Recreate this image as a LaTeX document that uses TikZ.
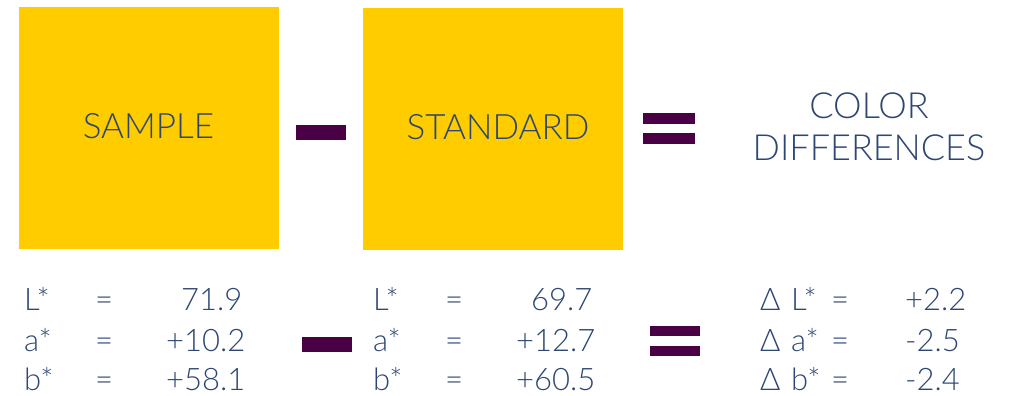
\documentclass[tikz,border=0pt]{standalone}
\usepackage{fontspec}
\setmainfont{Lato Light}
\definecolor{gold}{HTML}{FFCC00}
\definecolor{ink}{HTML}{2D4673}
\definecolor{plum}{HTML}{4A0045}
\begin{document}
\begin{tikzpicture}[x=1pt,y=-1pt,
  square/.style={fill=gold, inner sep=0pt, minimum width=260pt, minimum height=242pt},
  sqtext/.style={inner sep=0pt, text=ink, font=\fontsize{35}{35}\selectfont},
  bar/.style={fill=plum, inner sep=0pt, minimum width=50pt},
  val/.style={inner sep=0pt, anchor=base west, text=ink, font=\fontsize{31}{31}\selectfont},
  head/.style={inner sep=0pt, anchor=base, text=ink, font=\fontsize{36}{36}\selectfont}]
\useasboundingbox (0,0) rectangle (1012,396);
% squares
\node[square] (sample) at (149,128) {};
\node[sqtext] (samplelbl) at (148.5,126.5) {SAMPLE};
\node[square] (standard) at (493,129) {};
\node[sqtext] (standardlbl) at (498,127.5) {STANDARD};
% top operators
\node[bar, minimum height=15pt] (minustop) at (321,132.5) {};
\node[bar, minimum height=11pt, minimum width=52pt] (eqtopa) at (669,118.5) {};
\node[bar, minimum height=11pt, minimum width=52pt] (eqtopb) at (669,138.5) {};
% heading
\node[head] (color) at (869,118) {COLOR};
\node[head] (diff) at (869,160) {DIFFERENCES};
% sample values
\node[val] (sL) at (24,310) {L*};
\node[val] (sa) at (24,351) {a*};
\node[val] (sb) at (24,390) {b*};
\node[val] (seq1) at (95,310) {=};
\node[val] (seq2) at (95,351) {=};
\node[val] (seq3) at (95,390) {=};
\node[val] (sv1) at (181,310) {71.9};
\node[val] (sv2) at (166,351) {+10.2};
\node[val] (sv3) at (166,390) {+58.1};
% bottom minus
\node[bar, minimum height=15pt] (minusbot) at (327,344.5) {};
% standard values
\node[val] (tL) at (373,310) {L*};
\node[val] (ta) at (373,351) {a*};
\node[val] (tb) at (373,390) {b*};
\node[val] (teq1) at (445,310) {=};
\node[val] (teq2) at (445,351) {=};
\node[val] (teq3) at (445,390) {=};
\node[val] (tv1) at (531,310) {69.7};
\node[val] (tv2) at (516,351) {+12.7};
\node[val] (tv3) at (516,390) {+60.5};
% bottom equals
\node[bar, minimum height=10pt] (eqbota) at (675,331) {};
\node[bar, minimum height=10pt] (eqbotb) at (675,351) {};
% differences
\node[val] (dD1) at (760,310) {Δ};
\node[val] (dD2) at (760,351) {Δ};
\node[val] (dD3) at (760,390) {Δ};
\node[val] (dL) at (791,310) {L*};
\node[val] (da) at (791,351) {a*};
\node[val] (db) at (791,390) {b*};
\node[val] (deq1) at (831,310) {=};
\node[val] (deq2) at (831,351) {=};
\node[val] (deq3) at (831,390) {=};
\node[val] (dv1) at (905,310) {+2.2};
\node[val] (dv2) at (905,351) {-2.5};
\node[val] (dv3) at (905,390) {-2.4};
\end{tikzpicture}
\end{document}
